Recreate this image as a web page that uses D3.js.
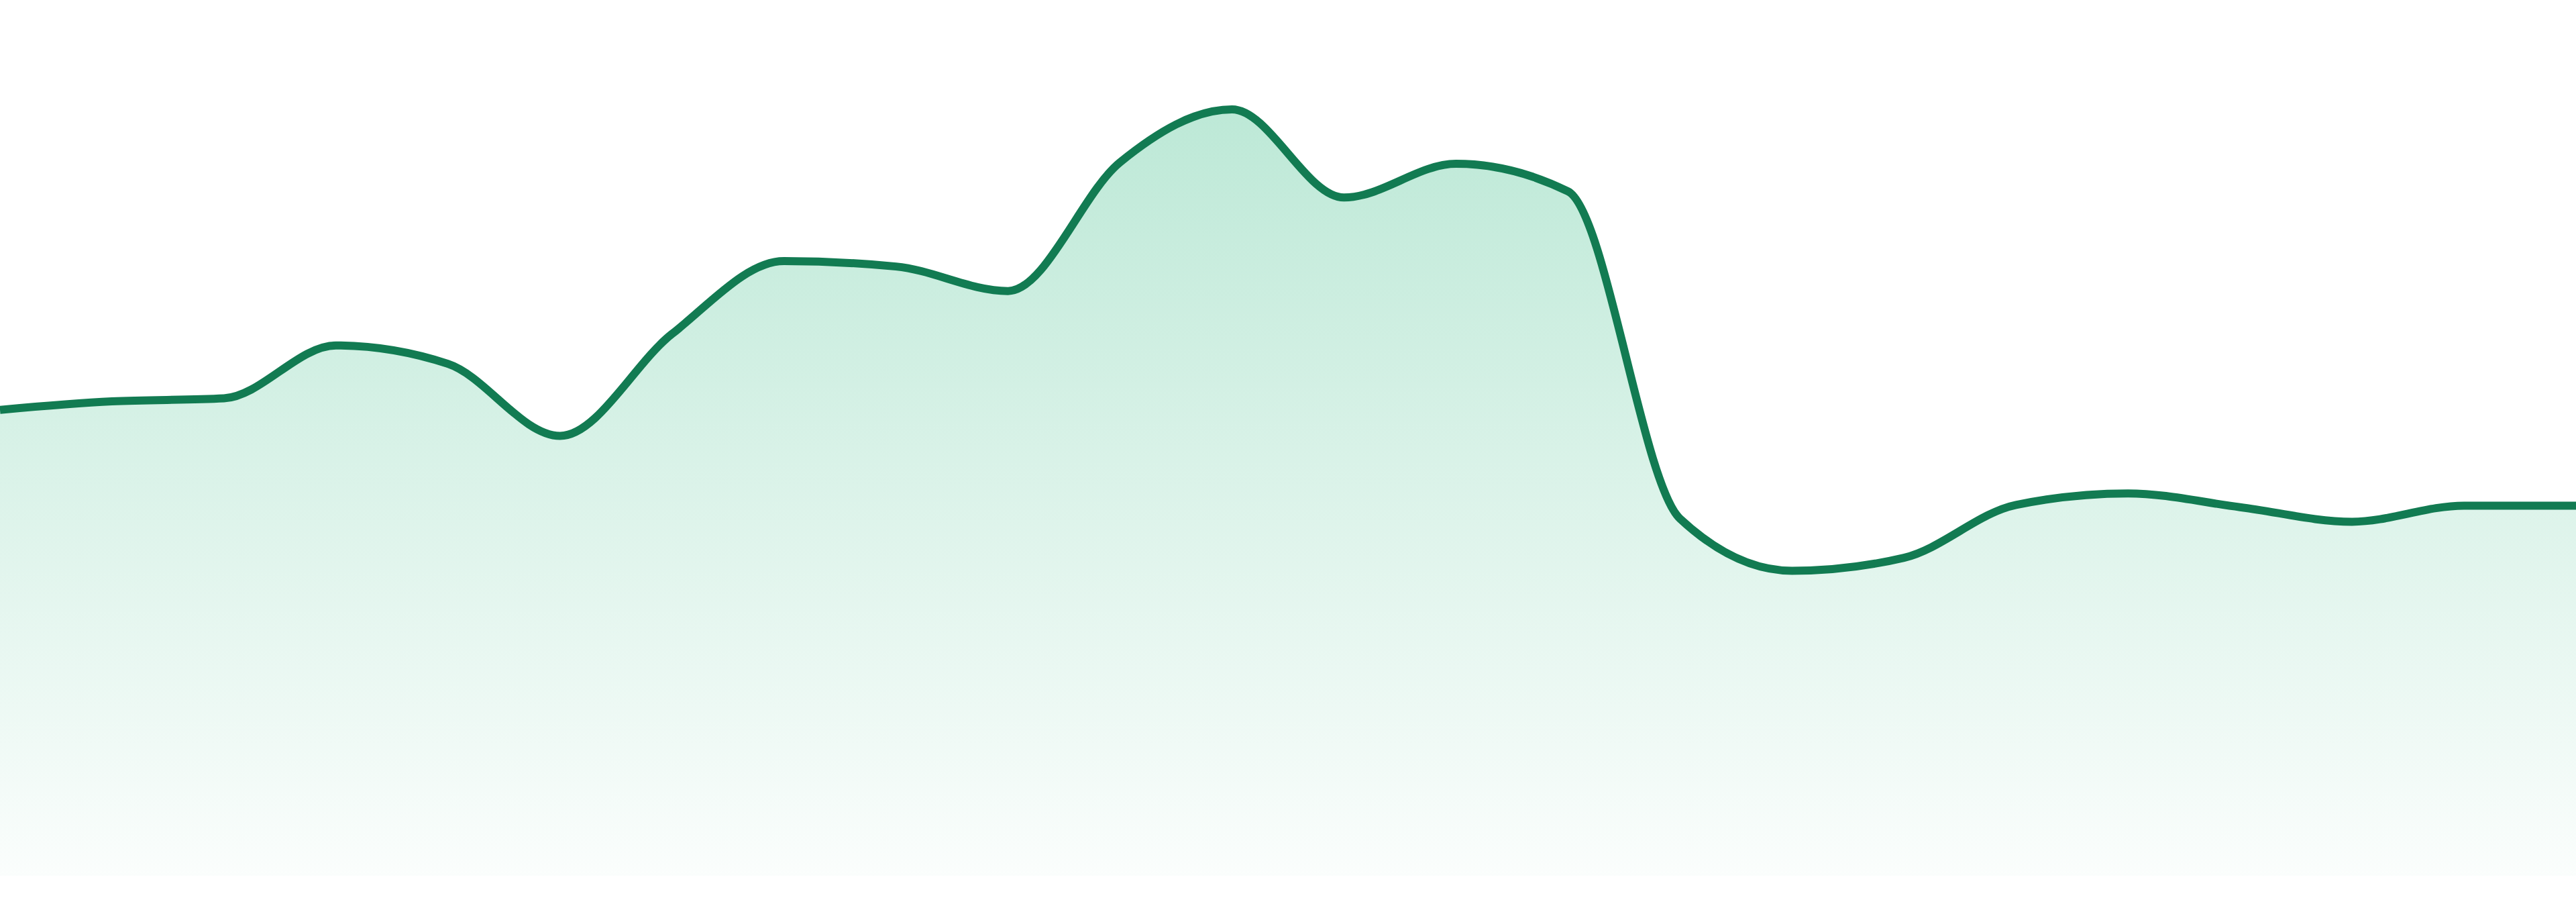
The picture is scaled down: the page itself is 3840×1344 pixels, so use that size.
<!DOCTYPE html>
<meta charset="utf-8">
<style>
body { margin: 0; background: #fff; }
svg { display: block; }
.line { fill: none; stroke: #127b52; stroke-width: 12; stroke-linejoin: round; }
</style>
<svg width="3840" height="1344"></svg>
<script src="https://d3js.org/d3.v7.min.js"></script>
<script>
// one value per step (no axes shown)
var steps = d3.range(24);
var values = [60.8, 61.9, 62.3, 69.2, 66.8, 57.4, 70.7, 80.2, 79.5, 76.3, 93.1, 100,
              88.5, 92.9, 89.3, 46.6, 39.8, 41.5, 48.4, 49.9, 48.1, 46.2, 48.3, 48.3];

var svg = d3.select("svg"),
  margin = {top: 163, right: 0, bottom: 39, left: 0},
  width = svg.attr("width") - margin.left - margin.right,
  height = svg.attr("height") - margin.top - margin.bottom;

var x = d3.scaleLinear()
  .domain(d3.extent(steps))
  .range([0, width]);

var y = d3.scaleLinear()
  .domain([0, d3.max(values)])
  .range([height, 0]);

var data = steps.map(function(s, i) { return {step: s, value: values[i]}; });

var g = svg.append("g")
  .attr("transform", "translate(" + margin.left + "," + margin.top + ")");

var grad = svg.append("defs").append("linearGradient")
  .attr("id", "fade")
  .attr("gradientUnits", "userSpaceOnUse")
  .attr("x1", 0).attr("x2", 0)
  .attr("y1", y(d3.max(values))).attr("y2", y(0));
grad.append("stop").attr("offset", 0).attr("stop-color", "rgb(34,180,120)").attr("stop-opacity", 0.3);
grad.append("stop").attr("offset", 1).attr("stop-color", "rgb(34,180,120)").attr("stop-opacity", 0.02);

var area = d3.area()
  .curve(d3.curveMonotoneX)
  .x(function(d) { return x(d.step); })
  .y0(y(0))
  .y1(function(d) { return y(d.value); });

var line = d3.line()
  .curve(d3.curveMonotoneX)
  .x(function(d) { return x(d.step); })
  .y(function(d) { return y(d.value); });

g.append("path")
  .datum(data)
  .attr("fill", "url(#fade)")
  .attr("d", area);

g.append("path")
  .datum(data)
  .attr("class", "line")
  .attr("d", line);
</script>
